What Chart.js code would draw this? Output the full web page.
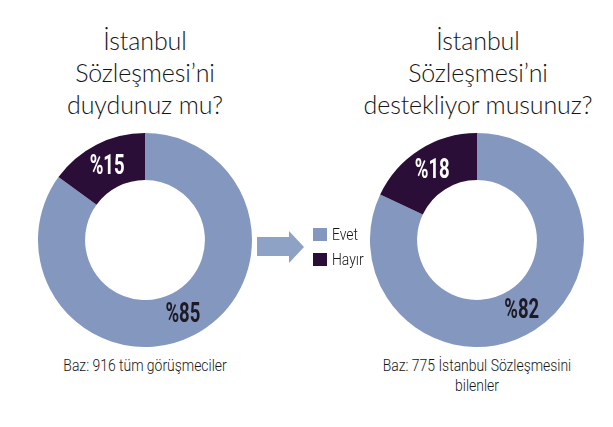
<!DOCTYPE html>
<html lang="tr">
<head>
<meta charset="UTF-8">
<title>İstanbul Sözleşmesi</title>
<script src="https://cdn.jsdelivr.net/npm/chart.js@4/dist/chart.umd.min.js"></script>
<style>
  body { margin: 0; background: #fff; }
  .wrap { position: relative; width: 613px; height: 427px; overflow: hidden; }
  .title {
    position: absolute; width: 280px; text-align: center;
    font-family: Lato, sans-serif; font-weight: 300; font-size: 25px;
    letter-spacing: -0.1px; line-height: 32px; color: #151515;
  }
  .base {
    position: absolute; width: 300px; text-align: center;
    font-family: Roboto, sans-serif; font-weight: 300; font-size: 16px;
    line-height: 20px; color: #151515;
    transform: scaleX(0.87); transform-origin: center top;
  }
  canvas { position: absolute; }
  .legend {
    position: absolute; left: 313px; top: 226px;
    font-family: Roboto, sans-serif; font-weight: 300; font-size: 17px; color: #151515;
  }
  .legend div { height: 25px; line-height: 16px; }
  .legend span.box { display: inline-block; width: 14px; height: 13px; vertical-align: -1px; margin-right: 5px; }
  .legend span.txt { display: inline-block; transform: scaleX(0.82); transform-origin: left center; }
  svg.arrow { position: absolute; left: 256px; top: 230px; }
</style>
</head>
<body>
<div class="wrap">
  <div class="title" style="left:5px; top:24px;">İstanbul<br>Sözleşmesi’ni<br>duydunuz mu?</div>
  <div class="title" style="left:338px; top:24px;">İstanbul<br>Sözleşmesi’ni<br>destekliyor musunuz?</div>

  <canvas id="heard" width="214" height="214" style="left:38px; top:133px;"></canvas>
  <canvas id="support" width="214" height="214" style="left:370px; top:133px;"></canvas>

  <svg class="arrow" width="50" height="34">
    <polygon points="1,7 33,7 33,1 48,17 33,33 33,26 1,26" fill="#8ea2c6"/>
  </svg>
  <div class="legend" id="legend"></div>

  <div class="base" style="left:-5px; top:356px;">Baz: 916 tüm görüşmeciler</div>
  <div class="base" style="left:327px; top:356px;">Baz: 775 İstanbul Sözleşmesini<br>bilenler</div>
</div>
<script>
  const answers = ['Evet', 'Hayır'];
  const heardValues = [85, 15];
  const supportValues = [82, 18];
  const sliceColors = ['#8498bf', '#2b0e38'];
  const labelColors = ['#1d1a26', '#ffffff'];

  // legend in the middle
  const legend = document.getElementById('legend');
  answers.forEach(function (a, i) {
    const row = document.createElement('div');
    row.innerHTML = '<span class="box" style="background:' + sliceColors[i] + '"></span><span class="txt">' + a + '</span>';
    legend.appendChild(row);
  });

  // percent labels on the slices
  const sliceLabels = {
    id: 'sliceLabels',
    afterDatasetsDraw(chart) {
      const ctx = chart.ctx;
      const meta = chart.getDatasetMeta(0);
      const values = chart.data.datasets[0].data;
      meta.data.forEach(function (arc, i) {
        const p = arc.tooltipPosition();
        ctx.save();
        ctx.translate(p.x, p.y);
        ctx.scale(0.66, 1);
        ctx.font = 'bold 28px Roboto';
        ctx.fillStyle = labelColors[i];
        ctx.textAlign = 'center';
        ctx.textBaseline = 'middle';
        ctx.fillText('%' + values[i], 0, 1);
        ctx.restore();
      });
    }
  };

  function doughnut(id, values) {
    return new Chart(id, {
      type: 'doughnut',
      data: {
        labels: answers,
        datasets: [{
          data: values,
          backgroundColor: sliceColors,
          borderWidth: 0,
          hoverOffset: 0
        }]
      },
      options: {
        responsive: false,
        animation: false,
        events: [],
        cutout: '56%',
        plugins: {
          legend: { display: false },
          tooltip: { enabled: false }
        }
      },
      plugins: [sliceLabels]
    });
  }

  doughnut('heard', heardValues);
  doughnut('support', supportValues);
</script>
</body>
</html>
